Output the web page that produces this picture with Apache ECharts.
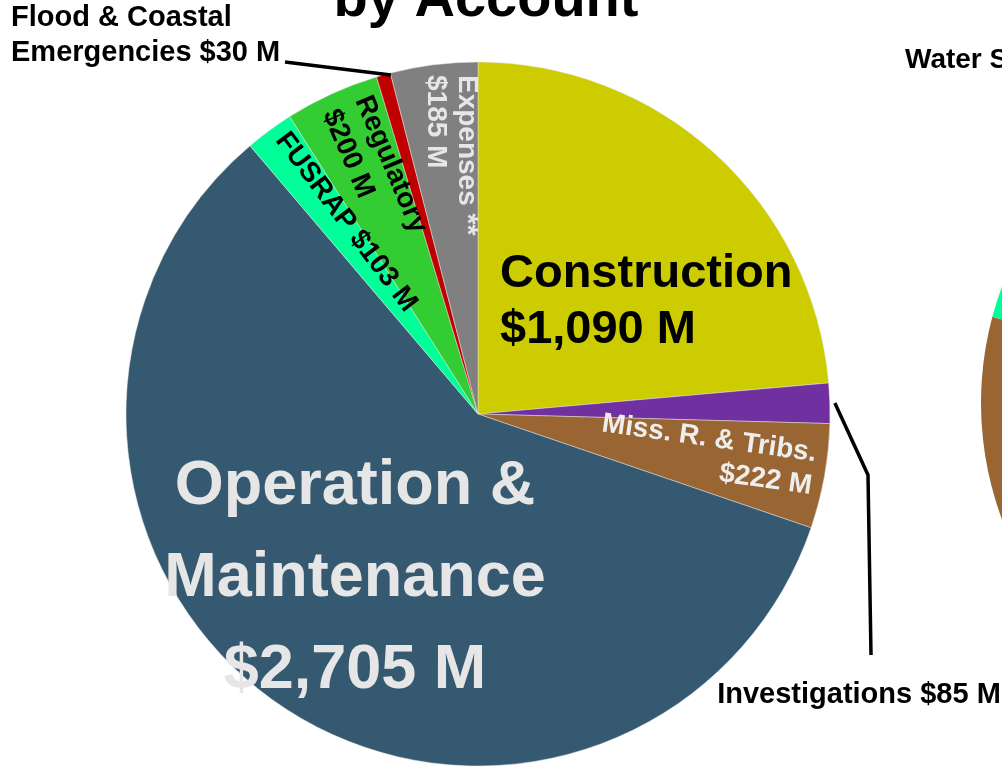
<!DOCTYPE html>
<html>
<head>
<meta charset="utf-8">
<script src="https://cdn.jsdelivr.net/npm/echarts@6/dist/echarts.min.js"></script>
<style>
html,body{margin:0;padding:0;background:#fff;}
#c{width:1002px;height:767px;}
</style>
</head>
<body>
<div id="c"></div>
<script>
// ---- data ----
const categories = ['Construction', 'Investigations', 'Miss. R. & Tribs.', 'Operation & Maintenance', 'FUSRAP', 'Regulatory', 'Flood & Coastal Emergencies', 'Expenses **'];
const values = [1090, 85, 222, 2705, 103, 200, 30, 185];
const labelNames = ['Construction\n', 'Investigations ', 'Miss. R. & Tribs.\n', 'Operation &\nMaintenance\n', 'FUSRAP ', 'Regulatory\n', 'Flood & Coastal\nEmergencies ', 'Expenses **\n'];
const sliceColors = ['#CCCC00', '#7030A0', '#996633', '#355971', '#00FF99', '#33CC33', '#C00000', '#808080'];
const titleText = 'by Account';
const secondTitle = 'Water Supply';
const secondCategories = ['Other', 'Miss. R. & Tribs.', 'FUSRAP', 'Remaining'];
const secondValues = [200, 85, 15, 60];
const secondColors = ['#CCCC00', '#996633', '#00FF99', '#808080'];

// ---- layout ----
const CX = 478, CY = 414, R = 352;
const total = values.reduce((a, b) => a + b, 0);
function angleAt(c) { return c / total * 2 * Math.PI; } // clockwise from 12 o'clock
function pt(ang, r) { return [CX + r * Math.sin(ang), CY - r * Math.cos(ang)]; }
let cum = [0];
values.forEach((v, i) => cum.push(cum[i] + v));
const invMid = angleAt(cum[1] + values[1] / 2);
const floodEnd = angleAt(cum[7]);
const invStart = pt(invMid, R + 5);
const floodStart = pt(floodEnd, R - 2);

const labelStyles = [
  {color: '#000', fontSize: 47, lineHeight: 56, x: 500, y: 302, rotate: 0, align: 'left'},
  {color: '#000', fontSize: 29, lineHeight: 34, x: 859, y: 695, rotate: 0, align: 'center'},
  {color: '#EEEEEE', fontSize: 28, lineHeight: 33, x: 814, y: 470, rotate: -8, align: 'right'},
  {color: '#E6E6E6', fontSize: 63, lineHeight: 92, x: 355, y: 579, rotate: 0, align: 'center'},
  {color: '#000', fontSize: 28, lineHeight: 32, x: 346, y: 222, rotate: -53, align: 'center'},
  {color: '#000', fontSize: 28, lineHeight: 35, x: 346, y: 104, rotate: -67, align: 'left'},
  {color: '#000', fontSize: 29, lineHeight: 35, x: 11, y: 35, rotate: 0, align: 'left'},
  {color: '#E6E6E6', fontSize: 28, lineHeight: 31, x: 451, y: 75, rotate: -90, align: 'left'}
];

const FONT = '"Liberation Sans", Arial, Helvetica, sans-serif';

const data = categories.map((c, i) => ({
  name: c,
  value: values[i],
  itemStyle: {color: sliceColors[i]},
  label: {
    show: true,
    position: 'inside',
    formatter: labelNames[i] + '$' + values[i].toLocaleString('en-US') + ' M',
    color: labelStyles[i].color,
    fontSize: labelStyles[i].fontSize,
    lineHeight: labelStyles[i].lineHeight,
    fontWeight: 'bold',
    fontFamily: FONT,
    align: labelStyles[i].align
  }
}));

const chart = echarts.init(document.getElementById('c'), null, {renderer: 'canvas'});
chart.setOption({
  animation: false,
  backgroundColor: '#ffffff',
  graphic: [
    {type: 'text', style: {text: titleText, x: 486, y: 1, textAlign: 'center', textVerticalAlign: 'middle', font: 'bold 56px ' + FONT, fill: '#000'}, z: 10},
    {type: 'text', style: {text: secondTitle, x: 905, y: 60, textAlign: 'left', textVerticalAlign: 'middle', font: 'bold 28px ' + FONT, fill: '#000'}, z: 10},
    {type: 'polyline', shape: {points: [invStart, [868, 475], [871, 655]]}, style: {stroke: '#000', lineWidth: 3.5, fill: null}, z: 10},
    {type: 'polyline', shape: {points: [floodStart, [285, 62]]}, style: {stroke: '#000', lineWidth: 3.5, fill: null}, z: 10}
  ],
  series: [
    {
      type: 'pie',
      center: [CX, CY],
      radius: R,
      startAngle: 90,
      clockwise: true,
      avoidLabelOverlap: false,
      silent: true,
      itemStyle: {borderWidth: 0.6, borderColor: 'rgba(230,230,230,0.8)'},
      labelLine: {show: false},
      labelLayout: function (params) {
        const s = labelStyles[params.dataIndex];
        return {x: s.x, y: s.y, rotate: s.rotate, align: s.align, verticalAlign: 'middle'};
      },
      data: data
    },
    {
      type: 'pie',
      center: [1314, 403],
      radius: 333,
      startAngle: 90,
      clockwise: true,
      silent: true,
      label: {show: false},
      labelLine: {show: false},
      itemStyle: {borderWidth: 0},
      data: secondCategories.map((c, i) => ({name: c, value: secondValues[i], itemStyle: {color: secondColors[i]}}))
    }
  ]
});
</script>
</body>
</html>
